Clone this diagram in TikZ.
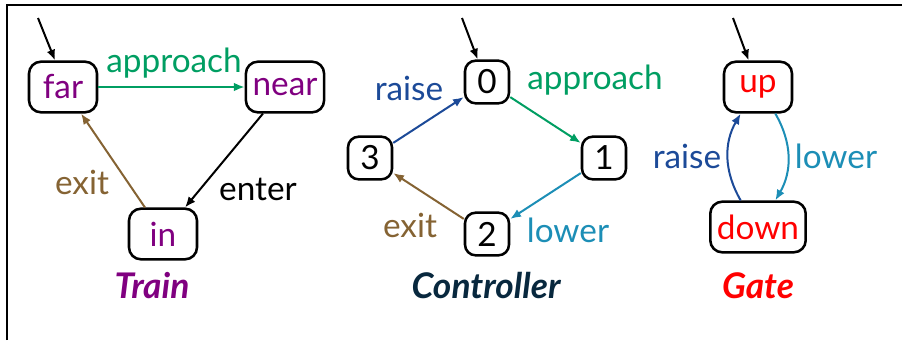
\documentclass[tikz,border=0pt]{standalone}
\usepackage{fontspec}
\setmainfont{Lato}
\usepackage{xcolor}
\usepackage{tikz}
\usetikzlibrary{positioning,arrows.meta}
\definecolor{trainc}{RGB}{128,0,128}
\definecolor{ctrlc}{RGB}{8,40,62}
\definecolor{gatec}{RGB}{255,0,0}
\definecolor{appr}{RGB}{0,158,98}
\definecolor{exitc}{RGB}{133,99,51}
\definecolor{raisec}{RGB}{28,74,152}
\definecolor{lowerc}{RGB}{28,142,182}
\tikzset{
    loc/.style={rectangle,draw=black,line width=1.9pt,rounded corners=9pt,minimum width=51pt,minimum height=38pt,inner xsep=5pt,inner ysep=0pt,font=\fontsize{25}{30}\selectfont},
    cloc/.style={rectangle,draw=black,line width=1.9pt,rounded corners=8pt,minimum width=33pt,minimum height=32pt,inner sep=0pt,font=\fontsize{25}{30}\selectfont},
    arr/.style={-{Latex[length=8pt,width=6.5pt]},line width=1.5pt},
    lbl/.style={anchor=base,inner sep=0pt,font=\fontsize{25}{30}\selectfont},
    title/.style={anchor=base,inner sep=0pt,font=\fontsize{26.5}{30}\selectfont\bfseries\itshape},
}

\begin{document}
\begin{tikzpicture}[x=0.75pt,y=-0.75pt]
\useasboundingbox (0,0) rectangle (902,340);
\draw[line width=1.6pt] (7,340) |- (902,5);

\node[loc,text=trainc] (far) at (63,87) {far};
\node[loc,text=trainc] (near) at (285,87) {near};
\node[loc,text=trainc] (in) at (163,234) {in};
\node[title,text=trainc] (ttrain) at (152,298) {Train};

\node[cloc] (c0) at (487,82) {0};
\node[cloc] (c1) at (604,158) {1};
\node[cloc] (c2) at (487,234) {2};
\node[cloc] (c3) at (370,158) {3};
\node[title,text=ctrlc] (tctrl) at (486,298) {Controller};

\node[loc,text=gatec] (up) at (758,87) {up};
\node[loc,text=gatec] (down) at (758,227) {down};
\node[title,text=gatec] (tgate) at (758,298) {Gate};

\coordinate (far0) at (38,18);
\coordinate (c00) at (462,18);
\coordinate (up0) at (733,18);

\draw[arr] (far0) -- ([xshift=-6pt]far.north);
\draw[arr,appr] (far) -- (near) node[lbl] at (174,72) {approach};
\draw[arr] (near) -- (in) node[lbl] at (258,200) {enter};
\draw[arr,exitc] (in) -- (far) node[lbl] at (82,194) {exit};

\draw[arr] (c00) -- ([xshift=-7pt]c0.north);
\draw[arr,appr] (c0) -- (c1) node[lbl] at (595,89) {approach};
\draw[arr,lowerc] (c1) -- (c2) node[lbl] at (568,242) {lower};
\draw[arr,exitc] (c2) -- (c3) node[lbl] at (410,237) {exit};
\draw[arr,raisec] (c3) -- (c0) node[lbl] at (409,100) {raise};

\draw[arr] (up0) -- ([xshift=-7pt]up.north);
\draw[arr,raisec] ([xshift=-13pt]down.north) to[bend left=30] ([xshift=-13pt]up.south) node[lbl] at (687,168) {raise};
\draw[arr,lowerc] ([xshift=13pt]up.south) to[bend left=30] ([xshift=13pt]down.north) node[lbl] at (836,168) {lower};
\end{tikzpicture}
\end{document}
